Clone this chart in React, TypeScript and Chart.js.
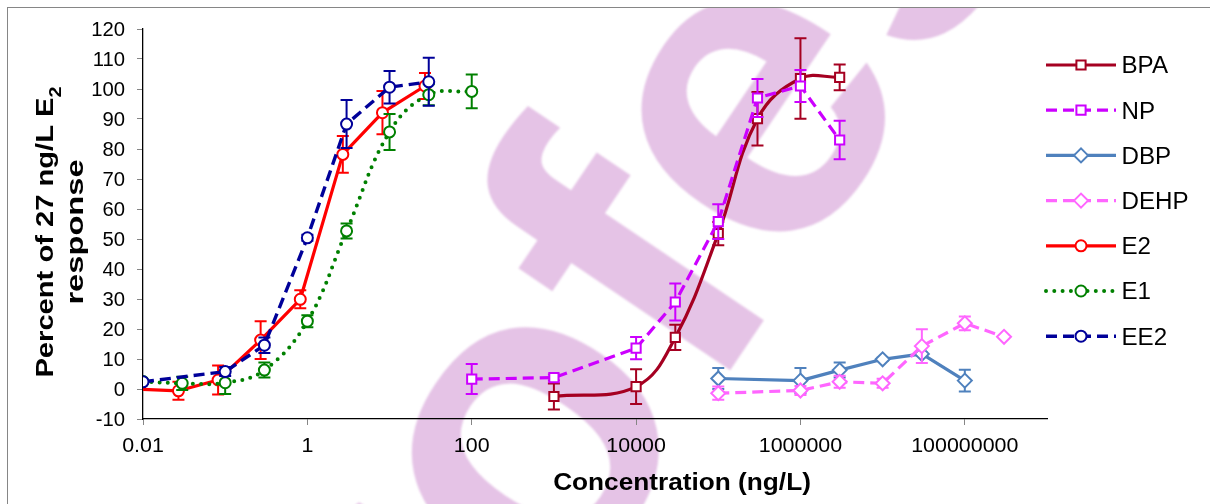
import React, { useEffect, useRef } from 'react';
import { Chart, registerables } from 'chart.js';

Chart.register(...registerables);

const FONT = '"Liberation Sans", Arial, Helvetica, sans-serif';

// Axis ticks
const X_TICKS = [0.01, 1, 100, 10000, 1000000, 100000000];
const X_TICK_LABELS = ['0.01', '1', '100', '10000', '1000000', '100000000'];
const Y_TICKS = [-10, 0, 10, 20, 30, 40, 50, 60, 70, 80, 90, 100, 110, 120];

// Concentrations (ng/L), responses (% of 27 ng/L E2) and error bars
const BPA_X = [1e3, 1e4, 3e4, 1e5, 3e5, 1e6, 3e6];
const BPA_Y = [-2.5, 0.8, 17.2, 51.8, 90.1, 103.5, 103.9];
const BPA_ERR = [4.3, 5.8, 4.2, 3.9, 8.9, 13.4, 4.3];

const NP_X = [100, 1e3, 1e4, 3e4, 1e5, 3e5, 1e6, 3e6];
const NP_Y = [3.3, 3.8, 13.6, 29.0, 55.8, 97.0, 101.0, 83.0];
const NP_ERR = [5.0, 1.0, 3.7, 6.2, 5.8, 6.3, 5.3, 6.4];

const DBP_X = [1e5, 1e6, 3e6, 1e7, 3e7, 1e8];
const DBP_Y = [3.5, 2.8, 6.3, 9.9, 11.7, 2.8];
const DBP_ERR = [3.5, 4.2, 2.5, 0.5, 0.5, 3.6];

const DEHP_X = [1e5, 1e6, 3e6, 1e7, 3e7, 1e8, 3e8];
const DEHP_Y = [-1.4, -0.5, 2.4, 1.9, 14.3, 21.9, 17.4];
const DEHP_ERR = [2.2, 1.5, 2.0, 1.5, 5.6, 2.3, 0];

const E2_X = [0.0082, 0.027, 0.082, 0.27, 0.82, 2.7, 8.2, 27];
const E2_Y = [0, -0.6, 3.0, 16.3, 29.9, 78.2, 92.1, 101.0];
const E2_ERR = [0, 3.0, 4.8, 6.3, 3.0, 6.1, 7.2, 4.3];

const E1_X = [0.01, 0.03, 0.1, 0.3, 1, 3, 10, 30, 100];
const E1_Y = [2.5, 1.9, 2.1, 6.3, 22.6, 52.7, 85.7, 98.1, 99.2];
const E1_ERR = [0, 2.2, 3.8, 2.5, 2.0, 2.5, 6.0, 3.5, 5.6];

const EE2_X = [0.01, 0.1, 0.3, 1, 3, 10, 30];
const EE2_Y = [2.4, 5.8, 14.6, 50.4, 88.3, 100.6, 102.4];
const EE2_ERR = [0, 1.5, 2.6, 1.0, 8.0, 5.4, 8.0];

const WATERMARK_TEXT = 'profes';

type Style = {
  color: string;
  width: number;
  dash: number[];
  cap: CanvasLineCap;
  point: 'rect' | 'circle' | 'rectRot';
  radius: number;
  tension: number;
};

function series(label: string, xs: number[], ys: number[], errs: number[], s: Style, order: number) {
  return {
    label,
    data: xs.map((x, i) => ({ x, y: ys[i] })),
    errorBars: errs,
    borderColor: s.color,
    borderWidth: s.width,
    borderDash: s.dash,
    borderCapStyle: s.cap,
    borderJoinStyle: 'round' as CanvasLineJoin,
    tension: s.tension,
    pointStyle: s.point,
    pointRadius: s.radius,
    pointBorderWidth: 2,
    pointBorderColor: s.color,
    pointBackgroundColor: '#ffffff',
    order,
    clip: 0,
    fill: false,
  };
}

function drawText(
  ctx: CanvasRenderingContext2D,
  text: string,
  x: number,
  y: number,
  size: number,
  opts: { bold?: boolean; sx?: number; align?: CanvasTextAlign } = {}
) {
  ctx.save();
  ctx.font = `${opts.bold ? 'bold ' : ''}${size}px ${FONT}`;
  ctx.fillStyle = '#000';
  ctx.textAlign = opts.align || 'left';
  ctx.textBaseline = 'alphabetic';
  ctx.translate(x, y);
  ctx.scale(opts.sx || 1, 1);
  ctx.fillText(text, 0, 0);
  ctx.restore();
}

function drawMarker(ctx: CanvasRenderingContext2D, style: string, x: number, y: number, r: number, color: string) {
  ctx.save();
  ctx.setLineDash([]);
  ctx.lineWidth = 2;
  ctx.strokeStyle = color;
  ctx.fillStyle = '#fff';
  ctx.beginPath();
  if (style === 'circle') {
    ctx.arc(x, y, r, 0, Math.PI * 2);
  } else if (style === 'rect') {
    const s = r * Math.SQRT1_2;
    ctx.rect(x - s, y - s, 2 * s, 2 * s);
  } else {
    ctx.moveTo(x - r, y);
    ctx.lineTo(x, y - r);
    ctx.lineTo(x + r, y);
    ctx.lineTo(x, y + r);
    ctx.closePath();
  }
  ctx.fill();
  ctx.stroke();
  ctx.restore();
}

// Pale diagonal watermark lettering behind the plot
const watermarkPlugin = {
  id: 'watermark',
  beforeDraw(chart: any) {
    const ctx: CanvasRenderingContext2D = chart.ctx;
    const size = 440;
    ctx.save();
    ctx.beginPath();
    ctx.rect(8, 8, chart.width, chart.height);
    ctx.clip();
    ctx.font = `bold ${size}px ${FONT}`;
    ctx.fillStyle = 'rgb(229, 195, 230)';
    ctx.filter = 'blur(1.2px)';
    const pre = ctx.measureText('pr').width;
    const ow = ctx.measureText('o').width;
    ctx.translate(537, 452);
    ctx.rotate((-56 * Math.PI) / 180);
    ctx.textBaseline = 'alphabetic';
    ctx.fillText(WATERMARK_TEXT, -(pre + ow / 2), 0.26 * size);
    ctx.restore();

    // chart-area frame
    ctx.save();
    ctx.strokeStyle = '#868686';
    ctx.lineWidth = 1;
    ctx.strokeRect(7.5, 7.5, chart.width + 20, chart.height + 20);
    ctx.restore();
  },
};

const errorBarPlugin = {
  id: 'errorBars',
  beforeDatasetDraw(chart: any, args: any) {
    const ds = chart.data.datasets[args.index];
    const errs: number[] | undefined = ds.errorBars;
    if (!errs) return;
    const xs = chart.scales.x;
    const ys = chart.scales.y;
    const a = chart.chartArea;
    const ctx: CanvasRenderingContext2D = chart.ctx;
    const cap = 6;
    ctx.save();
    ctx.beginPath();
    ctx.rect(a.left, a.top, a.right - a.left, a.bottom - a.top);
    ctx.clip();
    ctx.strokeStyle = ds.borderColor;
    ctx.lineWidth = 2;
    ctx.setLineDash([]);
    ds.data.forEach((p: { x: number; y: number }, i: number) => {
      const e = errs[i];
      if (!e) return;
      const px = xs.getPixelForValue(p.x);
      const top = ys.getPixelForValue(p.y + e);
      const bot = ys.getPixelForValue(p.y - e);
      ctx.beginPath();
      ctx.moveTo(px, top);
      ctx.lineTo(px, bot);
      ctx.moveTo(px - cap, top);
      ctx.lineTo(px + cap, top);
      ctx.moveTo(px - cap, bot);
      ctx.lineTo(px + cap, bot);
      ctx.stroke();
    });
    ctx.restore();
  },
};

// Tick labels, axis titles and the legend
const textPlugin = {
  id: 'texts',
  afterDraw(chart: any) {
    const ctx: CanvasRenderingContext2D = chart.ctx;
    const xs = chart.scales.x;
    const ys = chart.scales.y;
    const a = chart.chartArea;

    X_TICKS.forEach((v, i) => {
      drawText(ctx, X_TICK_LABELS[i], xs.getPixelForValue(v), a.bottom + 33, 21, { align: 'center', sx: 1.02 });
    });
    Y_TICKS.forEach((v) => {
      drawText(ctx, String(v), a.left - 18, ys.getPixelForValue(v) + 7, 19.5, { align: 'right', sx: 1.04 });
    });

    drawText(ctx, 'Concentration (ng/L)', 682, 490, 24.5, { bold: true, align: 'center', sx: 1.07 });

    // y title, two lines, rotated, with subscript
    const ty = (a.top + a.bottom) / 2 + 8;
    ctx.save();
    ctx.fillStyle = '#000';
    ctx.textBaseline = 'alphabetic';
    ctx.translate(53, ty);
    ctx.rotate(-Math.PI / 2);
    ctx.scale(1.24, 1);
    ctx.font = `bold 23.5px ${FONT}`;
    const main = 'Percent of 27 ng/L E';
    const w1 = ctx.measureText(main).width;
    ctx.font = `bold 16px ${FONT}`;
    const w2 = ctx.measureText('2').width;
    const start = -(w1 + w2) / 2;
    ctx.font = `bold 23.5px ${FONT}`;
    ctx.textAlign = 'left';
    ctx.fillText(main, start, 0);
    ctx.font = `bold 16px ${FONT}`;
    ctx.fillText('2', start + w1, 8);
    ctx.restore();

    ctx.save();
    ctx.fillStyle = '#000';
    ctx.textBaseline = 'alphabetic';
    ctx.textAlign = 'center';
    ctx.translate(82.5, ty);
    ctx.rotate(-Math.PI / 2);
    ctx.scale(1.39, 1);
    ctx.font = `bold 23.5px ${FONT}`;
    ctx.fillText('response', 0, 0);
    ctx.restore();

    // legend
    const lx0 = 1046;
    const lx1 = 1116;
    chart.data.datasets.forEach((ds: any, i: number) => {
      const y = 65 + 45.2 * i;
      ctx.save();
      ctx.strokeStyle = ds.borderColor;
      ctx.lineWidth = ds.borderWidth;
      ctx.lineCap = ds.borderCapStyle;
      ctx.setLineDash(ds.borderDash);
      ctx.beginPath();
      ctx.moveTo(lx0, y);
      ctx.lineTo(lx1, y);
      ctx.stroke();
      ctx.restore();
      drawMarker(ctx, ds.pointStyle, (lx0 + lx1) / 2, y, ds.pointRadius, ds.borderColor);
      drawText(ctx, ds.label, 1121.5, y + 8.3, 23, { sx: 1.05 });
    });
  },
};

export default function App() {
  const ref = useRef<HTMLCanvasElement>(null);

  useEffect(() => {
    const canvas = ref.current;
    if (!canvas) return;
    const datasets = [
      series('BPA', BPA_X, BPA_Y, BPA_ERR, { color: '#A50021', width: 3.2, dash: [], cap: 'butt', point: 'rect', radius: 6.5, tension: 0.4 }, 6),
      series('NP', NP_X, NP_Y, NP_ERR, { color: '#CC00FF', width: 3.2, dash: [11, 6], cap: 'butt', point: 'rect', radius: 6.5, tension: 0 }, 5),
      series('DBP', DBP_X, DBP_Y, DBP_ERR, { color: '#4F81BD', width: 3.2, dash: [], cap: 'butt', point: 'rectRot', radius: 7, tension: 0 }, 4),
      series('DEHP', DEHP_X, DEHP_Y, DEHP_ERR, { color: '#FF66FF', width: 3.2, dash: [11, 6], cap: 'butt', point: 'rectRot', radius: 7, tension: 0 }, 3),
      series('E2', E2_X, E2_Y, E2_ERR, { color: '#FF0000', width: 3.2, dash: [], cap: 'butt', point: 'circle', radius: 5.5, tension: 0 }, 2),
      series('E1', E1_X, E1_Y, E1_ERR, { color: '#008000', width: 4, dash: [0, 8.3], cap: 'round', point: 'circle', radius: 5.5, tension: 0.4 }, 1),
      series('EE2', EE2_X, EE2_Y, EE2_ERR, { color: '#000099', width: 3.4, dash: [11, 6], cap: 'butt', point: 'circle', radius: 5.5, tension: 0 }, 0),
    ];

    const chart = new Chart(canvas, {
      type: 'line',
      data: { datasets: datasets as any },
      options: {
        animation: false,
        responsive: false,
        devicePixelRatio: 1,
        events: [],
        layout: { padding: { top: 29, right: 163, bottom: 0, left: 0 } },
        plugins: { legend: { display: false }, tooltip: { enabled: false }, title: { display: false } },
        scales: {
          x: {
            type: 'logarithmic',
            min: 0.01,
            max: 1e9,
            afterBuildTicks: (s: any) => {
              s.ticks = X_TICKS.map((v) => ({ value: v }));
            },
            afterFit: (s: any) => {
              s.height = 85;
            },
            ticks: { display: false },
            grid: { drawOnChartArea: false, drawTicks: true, tickLength: 6, color: '#868686', lineWidth: 1 },
            border: { display: true, color: '#000', width: 1.3 },
          },
          y: {
            type: 'linear',
            min: -10,
            max: 120,
            afterBuildTicks: (s: any) => {
              s.ticks = Y_TICKS.map((v) => ({ value: v }));
            },
            afterFit: (s: any) => {
              s.width = 143;
            },
            ticks: { display: false },
            grid: { drawOnChartArea: false, drawTicks: true, tickLength: 6, color: '#868686', lineWidth: 1 },
            border: { display: true, color: '#000', width: 1.3 },
          },
        },
      },
      plugins: [watermarkPlugin, errorBarPlugin, textPlugin],
    } as any);

    return () => chart.destroy();
  }, []);

  return (
    <div style={{ position: 'absolute', left: 0, top: 0, width: 1210, height: 504, background: '#fff' }}>
      <canvas ref={ref} width={1210} height={504} style={{ display: 'block' }} />
    </div>
  );
}
